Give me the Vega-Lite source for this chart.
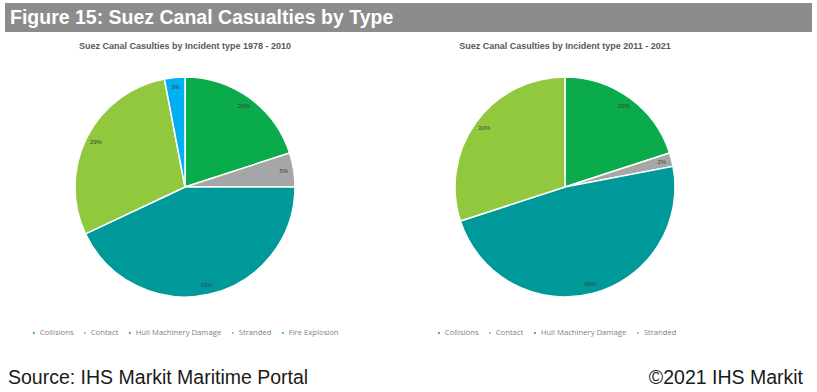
{
  "$schema": "https://vega.github.io/schema/vega-lite/v6.json",
  "background": "white",
  "padding": {"left": 5, "top": 3, "right": 5, "bottom": 0},
  "config": {"view": {"stroke": null}, "font": "Liberation Sans"},
  "datasets": {
    "a": [
      {"type": "Collisions", "pct": 0.20, "o": 1},
      {"type": "Contact", "pct": 0.05, "o": 2},
      {"type": "Hull Machinery Damage", "pct": 0.43, "o": 3},
      {"type": "Stranded", "pct": 0.29, "o": 4},
      {"type": "Fire Explosion", "pct": 0.03, "o": 5}
    ],
    "b": [
      {"type": "Collisions", "pct": 0.20, "o": 1},
      {"type": "Contact", "pct": 0.02, "o": 2},
      {"type": "Hull Machinery Damage", "pct": 0.48, "o": 3},
      {"type": "Stranded", "pct": 0.30, "o": 4}
    ]
  },
  "spacing": 10,
  "vconcat": [
    {
      "width": 807,
      "height": 29,
      "view": {"fill": "#8c8c8c", "stroke": null},
      "data": {"values": [{"t": "Figure 15: Suez Canal Casualties by Type"}]},
      "mark": {"type": "text", "align": "left", "baseline": "middle", "fontSize": 19.5, "fontWeight": "bold", "color": "white"},
      "encoding": {"text": {"field": "t"}, "x": {"value": 5}, "y": {"value": 15}}
    },
    {
      "spacing": 20,
      "resolve": {"scale": {"color": "independent"}},
      "hconcat": [
        {
          "width": 360,
          "height": 250,
          "title": {"text": "Suez Canal Casulties by Incident type 1978 - 2010", "fontSize": 9, "fontWeight": "bold", "color": "#595959", "offset": 11},
          "data": {"name": "a"},
          "encoding": {
            "theta": {"field": "pct", "type": "quantitative", "stack": true},
            "order": {"field": "o"},
            "color": {
              "field": "type", "type": "nominal",
              "scale": {"domain": ["Collisions", "Contact", "Hull Machinery Damage", "Stranded", "Fire Explosion"], "range": ["#0aab4b", "#a6a6a6", "#00999a", "#92c83e", "#00b0f0"]},
              "legend": {"orient": "none", "legendX": 25, "legendY": 267, "direction": "horizontal", "title": null, "symbolType": "circle", "symbolSize": 12, "labelFont": "Open Sans", "labelFontSize": 7.7, "labelColor": "#7f7f7f", "labelOffset": 2, "columnPadding": 6}
            }
          },
          "layer": [
            {"mark": {"type": "arc", "outerRadius": 110, "stroke": "white", "strokeWidth": 1.5}},
            {"mark": {"type": "text", "radius": 100, "fontSize": 6}, "encoding": {"text": {"field": "pct", "format": ".0%"}, "color": {"value": "#404040"}}}
          ]
        },
        {
          "width": 360,
          "height": 250,
          "title": {"text": "Suez Canal Casulties by Incident type 2011 - 2021", "fontSize": 9, "fontWeight": "bold", "color": "#595959", "offset": 11},
          "data": {"name": "b"},
          "encoding": {
            "theta": {"field": "pct", "type": "quantitative", "stack": true},
            "order": {"field": "o"},
            "color": {
              "field": "type", "type": "nominal",
              "scale": {"domain": ["Collisions", "Contact", "Hull Machinery Damage", "Stranded"], "range": ["#0aab4b", "#a6a6a6", "#00999a", "#92c83e"]},
              "legend": {"orient": "none", "legendX": 50, "legendY": 267, "direction": "horizontal", "title": null, "symbolType": "circle", "symbolSize": 12, "labelFont": "Open Sans", "labelFontSize": 7.7, "labelColor": "#7f7f7f", "labelOffset": 2, "columnPadding": 6}
            }
          },
          "layer": [
            {"mark": {"type": "arc", "outerRadius": 110, "stroke": "white", "strokeWidth": 1.5}},
            {"mark": {"type": "text", "radius": 100, "fontSize": 6}, "encoding": {"text": {"field": "pct", "format": ".0%"}, "color": {"value": "#404040"}}}
          ]
        }
      ]
    },
    {
      "width": 807,
      "height": 50,
      "layer": [
        {
          "data": {"values": [{"t": "Source: IHS Markit Maritime Portal"}]},
          "mark": {"type": "text", "align": "left", "baseline": "middle", "fontSize": 19.5, "color": "#1a1a1a"},
          "encoding": {"text": {"field": "t"}, "x": {"value": 3}, "y": {"value": 30}}
        },
        {
          "data": {"values": [{"t": "©2021 IHS Markit"}]},
          "mark": {"type": "text", "align": "right", "baseline": "middle", "fontSize": 19.5, "color": "#1a1a1a"},
          "encoding": {"text": {"field": "t"}, "x": {"value": 798}, "y": {"value": 30}}
        }
      ]
    }
  ]
}
